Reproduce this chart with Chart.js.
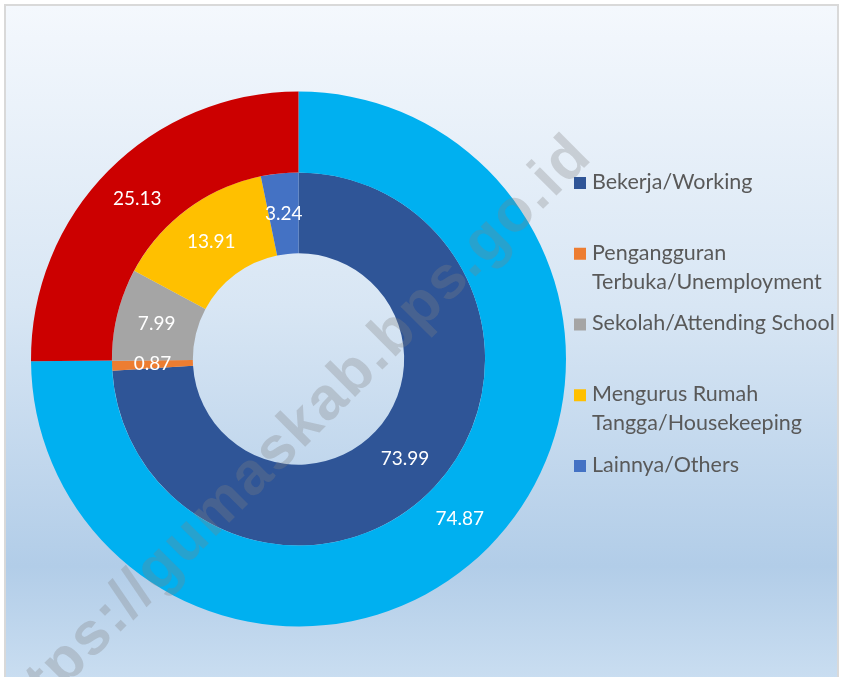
<!DOCTYPE html>
<html>
<head>
<meta charset="utf-8">
<script src="https://cdn.jsdelivr.net/npm/chart.js@4"></script>
<style>
  body { margin: 0; background: #ffffff; }
  #frame {
    position: absolute; left: 4px; top: 4px; width: 831px; height: 700px;
    border: 2px solid #d9d9d9;
    background: linear-gradient(to bottom, #f4f8fd 0px, #d8e6f4 300px, #b2cde8 560px, #cadef1 677px);
  }
  #myChart { position: absolute; left: 0; top: 0; }
</style>
</head>
<body>
<div id="frame"></div>
<canvas id="myChart" width="841" height="677"></canvas>
<script>
  // kategori (lingkaran dalam)
  var labels = ['Bekerja/Working', 'Pengangguran Terbuka/Unemployment', 'Sekolah/Attending School', 'Mengurus Rumah Tangga/Housekeeping', 'Lainnya/Others'];
  var legendLines = [['Bekerja/Working'], ['Pengangguran', 'Terbuka/Unemployment'], ['Sekolah/Attending School'], ['Mengurus Rumah', 'Tangga/Housekeeping'], ['Lainnya/Others']];
  var innerValues = [73.99, 0.87, 7.99, 13.91, 3.24];
  var innerColors = ['#2f5597', '#ed7d31', '#a5a5a5', '#ffc000', '#4472c4'];
  // lingkaran luar
  var outerValues = [74.87, 25.13];
  var outerColors = ['#00b0f0', '#cc0000'];

  var FONT = 'Lato';

  // label angka di tengah tiap potongan
  var valueLabels = {
    id: 'valueLabels',
    afterDatasetsDraw: function(chart) {
      var ctx = chart.ctx;
      ctx.save();
      ctx.fillStyle = '#ffffff';
      ctx.font = '19px ' + FONT;
      ctx.textAlign = 'center';
      ctx.textBaseline = 'middle';
      chart.data.datasets.forEach(function(ds, di) {
        chart.getDatasetMeta(di).data.forEach(function(arc, i) {
          var p = arc.tooltipPosition();
          ctx.fillText(ds.data[i].toFixed(2), p.x, p.y);
        });
      });
      ctx.restore();
    }
  };

  // legend manual ala Excel
  var sideLegend = {
    id: 'sideLegend',
    afterDraw: function(chart) {
      var ctx = chart.ctx;
      ctx.save();
      ctx.font = '21.5px ' + FONT;
      ctx.textBaseline = 'middle';
      ctx.textAlign = 'left';
      legendLines.forEach(function(lines, i) {
        var y = 182 + i * 70.75;
        ctx.fillStyle = innerColors[i];
        ctx.fillRect(574, y - 5, 12, 12);
        ctx.fillStyle = '#595959';
        lines.forEach(function(t, j) {
          ctx.fillText(t, 592, y + j * 29);
        });
      });
      ctx.restore();
    }
  };

  // watermark
  var watermark = {
    id: 'watermark',
    afterDraw: function(chart) {
      var ctx = chart.ctx;
      ctx.save();
      ctx.translate(594, 158);
      ctx.rotate(-Math.PI / 4);
      ctx.font = 'bold 60px "Liberation Sans"';
      ctx.letterSpacing = '2px';
      ctx.textAlign = 'right';
      ctx.textBaseline = 'alphabetic';
      ctx.fillStyle = 'rgba(128, 128, 128, 0.3)';
      ctx.fillText('https://gumaskab.bps.go.id', 0, 0);
      ctx.restore();
    }
  };

  var ctx = document.getElementById('myChart').getContext('2d');
  var myChart = new Chart(ctx, {
    type: 'doughnut',
    data: {
      labels: labels,
      datasets: [{
        data: outerValues,
        backgroundColor: outerColors,
        borderWidth: 0
      }, {
        data: innerValues,
        backgroundColor: innerColors,
        borderWidth: 0
      }]
    },
    options: {
      responsive: false,
      animation: false,
      cutout: '39.5%',
      layout: { padding: { left: 31, right: 275, top: 90, bottom: 49 } },
      plugins: {
        legend: { display: false },
        tooltip: { enabled: false }
      }
    },
    plugins: [valueLabels, sideLegend, watermark]
  });
</script>
</body>
</html>
